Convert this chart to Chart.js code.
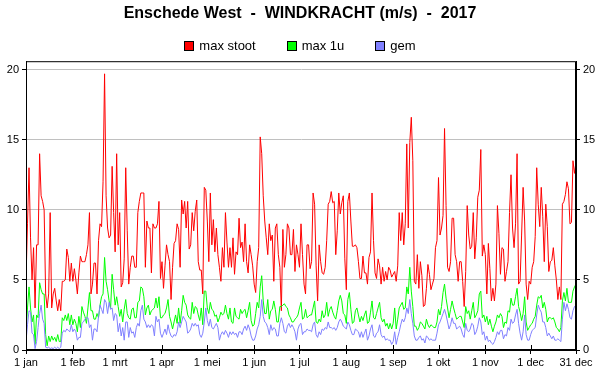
<!DOCTYPE html>
<html>
<head>
<meta charset="utf-8">
<script src="https://cdn.jsdelivr.net/npm/chart.js@4.4.1/dist/chart.umd.min.js"></script>
<style>
  html, body { margin: 0; padding: 0; background: #fff; }
  #wrap { position: relative; width: 600px; height: 390px; }
  #legend {
    position: absolute; top: 39px; left: 0; width: 600px;
    display: flex; justify-content: center; gap: 31px;
    font: 13px "Liberation Sans", Arial, sans-serif; color: #000; line-height: 14px;
  }
  .item { display: flex; align-items: center; }
  .box { width: 8px; height: 8px; border: 1px solid #000; margin-right: 5px; }
</style>
</head>
<body>
<div id="wrap">
  <canvas id="chart" width="600" height="390"></canvas>
  <div id="legend"></div>
</div>
<script>
// day index (0 = 1 jan) of each x tick
const monthDays = [0, 31, 59, 90, 120, 151, 181, 212, 243, 273, 304, 334, 364];
const monthLabels = ['1 jan', '1 feb', '1 mrt', '1 apr', '1 mei', '1 jun', '1 jul',
    '1 aug', '1 sep', '1 okt', '1 nov', '1 dec', '31 dec'];
const yTicks = [0, 5, 10, 15, 20];

const seriesNames = ['max stoot', 'max 1u', 'gem'];
const seriesColors = ['#ff0000', '#00ff00', '#8080ff'];

// daily values 2017, m/s
const maxStoot = [
    5, 9, 13, 8, 5, 7.3, 3, 7.5, 7.5, 14,
    11, 10.6, 10, 4, 3, 4, 9.8, 3, 4, 4.4,
    3.5, 2.8, 3.6, 2.8, 4.9, 4.9, 5, 7.2, 6.6, 4.9,
    6.2, 4.9, 5.8, 5, 4, 5.5, 6.7, 6.3, 6.3, 6.3,
    6.8, 7.5, 9.8, 4, 4.7, 6.2, 6.2, 4, 7.8, 9,
    8.8, 12, 19.7, 11, 8.7, 8, 8.2, 13.1, 9.8, 7,
    14, 7.5, 9.8, 4.5, 4.8, 6.5, 13, 8.5, 4.7, 5.9,
    6.7, 6.7, 5.9, 5.9, 9.8, 10.6, 11.2, 11.2, 11.2, 5.9,
    9.2, 8.7, 8.7, 5.5, 9, 8.7, 8.7, 9, 10.6, 5.1,
    6.3, 4.4, 6, 7.5, 6.8, 6.3, 3.6, 5.9, 7.6, 7.8,
    9, 8.6, 5.9, 10.7, 9.7, 10.6, 8.7, 10.6, 7.2, 7.5,
    9.8, 8.5, 9.9, 10.7, 6.3, 5.7, 5.7, 4, 11.6, 11.4,
    9.2, 6.3, 11.2, 7.5, 9.3, 7, 8.7, 6.8, 5.9, 4.9,
    7.3, 5.9, 9.8, 7.7, 5.9, 7.3, 5.9, 8, 5.4, 7,
    6.8, 9.4, 7.3, 7.7, 6.3, 9, 6.3, 5.5, 7.5, 6.8,
    6, 4.7, 4.1, 6.3, 7.3, 15.2, 14, 11, 9.2, 8,
    6.8, 9, 7.8, 8.2, 4.9, 8.7, 9, 6.8, 5.9, 2.8,
    8.6, 5.9, 6.8, 9, 8.7, 6.8, 6.8, 8.6, 5.6, 7.5,
    6.8, 5.9, 9, 6.8, 4.7, 4, 7.5, 7.5, 5.8, 6.3,
    11.2, 10.4, 6, 3.5, 7.5, 6.3, 5.5, 5.4, 5.9, 7.8,
    10.4, 10.6, 11.3, 10.5, 10.6, 6.8, 8.5, 11.2, 9.7, 10.5,
    11, 6.5, 4.3, 10.6, 11.2, 9.2, 7.4, 7.4, 7.5, 7.3,
    6.3, 5.1, 5.1, 6.7, 5.5, 5.5, 4.7, 6.6, 7, 11.2,
    7.8, 5.5, 5.1, 6.5, 6, 4.7, 5.9, 4.9, 5.6, 5,
    5.9, 5.7, 5.2, 5.4, 5.6, 4.9, 6, 9.8, 7.8, 9.8,
    7.5, 9, 14.7, 8.7, 14.8, 16.6, 13.5, 4.9, 4.7, 6.8,
    4.4, 6.3, 5.3, 3.1, 3.2, 4.4, 6.1, 5.4, 4.3, 4.7,
    5.1, 7.3, 7.8, 12.3, 8.2, 8.7, 9.6, 15.8, 10.3, 5.9,
    5.6, 6.3, 9.4, 9.4, 6.8, 6.3, 4.9, 6.3, 6.3, 4.9,
    3.1, 5.6, 10.3, 8.2, 7.2, 7.4, 9.8, 6.5, 8, 10.9,
    11.4, 14.3, 6.7, 7.5, 6.8, 4, 7.6, 5.8, 3.5, 4.4,
    3.5, 4.7, 10.3, 8.3, 5.4, 7.3, 7.2, 4.9, 5.6, 6.3,
    9.8, 12.5, 8.7, 7.3, 9, 14, 4.7, 4.9, 8.2, 11.6,
    9.2, 4.7, 3.6, 4.9, 4.7, 5.9, 6.3, 8.1, 13, 10.4,
    8.8, 11.6, 9.5, 6.3, 10.4, 8.8, 5.6, 6.3, 6.4, 7.3,
    6, 5, 3.6, 4.5, 3.6, 10.4, 10.6, 11.1, 12, 11.5,
    9, 9.1, 13.5, 12.6, 13.4
];

const max1u = [
    1.3, 3, 4.5, 3, 2, 2.5, 0.4, 2.5, 2.3, 4.8,
    4.3, 4, 4, 1.1, 0.3, 1, 0.6, 1, 0.7, 0.9,
    0.6, 1.1, 0.6, 0.6, 2.3, 2.1, 2.5, 2.1, 2.6, 1.8,
    2.5, 1.8, 2.2, 1.9, 1.3, 2.4, 1.6, 3.1, 2.7, 2.4,
    1.9, 3, 4.1, 2.8, 2.8, 2.2, 2.2, 2.6, 2.3, 3.2,
    3.8, 4, 6.6, 4.9, 4.3, 3.5, 3, 5.4, 4.3, 3.2,
    3.8, 3.1, 2.4, 2.9, 2, 2.9, 3.6, 2.6, 2.3, 2.2,
    2.9, 3, 2.3, 2.3, 3.4, 3.5, 4.5, 4.4, 3.8, 2.5,
    3, 3.2, 2.5, 2.8, 2.9, 3, 3.7, 3, 3.8, 2.3,
    2.3, 2.5, 2.6, 3, 3.6, 2.4, 2, 1.5, 2, 2.5,
    1.9, 3, 1.9, 2.8, 3.9, 3.4, 3.2, 2.5, 2.3, 2.2,
    3.4, 2.6, 3.1, 3, 2.5, 2.1, 3, 1.8, 4.2, 4.2,
    3, 2.6, 3.4, 2.9, 2.8, 2.4, 2.5, 2, 2.3, 2.7,
    2.5, 2.6, 3.2, 2.6, 2.2, 3, 2, 1.9, 3, 2.4,
    2.3, 2.2, 2.9, 2.6, 2.8, 2.9, 2.3, 2.8, 3.4, 2.1,
    1.7, 1.8, 2.6, 3.4, 3, 4.5, 5.3, 3.5, 2.6, 2.6,
    3.6, 2.2, 2.8, 2.9, 3.5, 2.9, 2, 2, 3.1, 3.1,
    3.2, 3.3, 3.1, 3, 2.5, 2.3, 2, 2, 2.2, 2.3,
    2.5, 3, 3.4, 2.2, 2.3, 2.9, 2.3, 2.4, 2.5, 2.5,
    3, 3.5, 2, 1.9, 2.2, 2, 2.8, 2.3, 2.5, 3.4,
    2.4, 2.9, 3.1, 2.7, 2.4, 2.2, 2.8, 3.5, 3.9, 3.5,
    2.6, 2.5, 1.9, 3.6, 4.1, 2.9, 1.9, 2, 2.8, 3,
    2.5, 2, 2.4, 2.1, 2.5, 2.8, 1.9, 2, 2.7, 3.5,
    2.3, 2.2, 2.6, 3, 3.4, 2.3, 2, 2.2, 1.7, 1.9,
    1.5, 1.9, 1.5, 1.9, 3, 1.5, 2.2, 3, 3.2, 3.4,
    2.9, 3, 4.5, 4, 5.9, 4.2, 3.1, 1.7, 1.7, 1.4,
    1.6, 2, 1.9, 1.7, 1.5, 2.2, 1.8, 1.6, 1.8, 1.7,
    1.6, 1.6, 2, 2.9, 2.5, 3.1, 4.1, 4.7, 3.7, 3,
    2.3, 2.9, 3.5, 3, 2.6, 2.2, 2.3, 2.4, 2.4, 2,
    1.6, 3.1, 2.6, 2.8, 2.2, 2.8, 3.4, 2.3, 2.5, 2.8,
    4, 4.2, 2.3, 2.5, 2, 2.4, 1.8, 2.2, 1.7, 1.3,
    1.7, 2, 2.5, 2.3, 2.6, 2.4, 1.6, 2, 1.9, 2.8,
    2.7, 3.7, 3.2, 3.2, 3.8, 4.4, 3.1, 2.7, 2.1, 2.6,
    3.8, 2, 1.4, 1.6, 1.8, 1.9, 2.2, 2.4, 3.2, 3.8,
    3.7, 3.9, 3, 3.4, 2.9, 2, 2.3, 2.3, 2.2, 2.3,
    2, 1.6, 1.5, 1.3, 1.6, 3.5, 4.1, 3.5, 4.4, 3.4,
    3.4, 3.4, 4.2, 4.5, 4.7
];

const gem = [
    0.6, 1.8, 2.8, 2.7, 1.2, 1.1, 0.1, 0.6, 1.6, 2.6,
    3.2, 2.2, 1.9, 0.2, 0.15, 0.2, 0.1, 0.15, 0.1, 0.2,
    0.1, 0.2, 0.1, 0.2, 1.2, 1.4, 1.3, 1.5, 1.4, 1.3,
    1.8, 1.3, 1.5, 1.3, 0.7, 0.9, 0.9, 1.9, 2, 2.2,
    2.3, 2.3, 1.6, 1.8, 0.7, 1.5, 1.5, 1.3, 2.4, 3.2,
    2.9, 2.6, 3.6, 3.4, 2.6, 3.4, 2.9, 3, 2.1, 2.6,
    2.5, 1.3, 1.9, 1, 1.6, 0.7, 2, 2, 0.9, 1.6,
    1.2, 1.3, 0.9, 1.6, 1.9, 1.7, 2.8, 3.2, 2.2, 2,
    1.6, 1.8, 1.6, 1.8, 1.7, 1, 2.4, 2, 2.2, 1.2,
    0.9, 1.2, 1.5, 1.1, 1.8, 1.3, 1, 0.9, 1.1, 1,
    1.3, 2, 1.6, 2, 2.4, 2.2, 2, 1.2, 1.3, 1.5,
    1.9, 1.7, 1.9, 1.7, 1.8, 1.1, 0.9, 1.2, 2, 3,
    2.1, 1.7, 2.2, 1.6, 1.5, 1.7, 1.9, 1.6, 0.7, 1.1,
    1.3, 1.1, 1.4, 1.2, 0.9, 1.3, 1.1, 1.3, 1.1, 1.2,
    0.9, 1.3, 1.3, 1.1, 1.5, 1.7, 1.4, 1.8, 1.5, 1,
    0.7, 0.7, 1, 1.5, 1.8, 2.4, 3.6, 2.4, 2, 1.9,
    1.6, 1.1, 1.8, 1.4, 1.6, 1.5, 1, 1, 1.9, 2.3,
    1.9, 1.3, 1.2, 1.7, 1.9, 1.6, 1.8, 1.6, 1.3, 0.7,
    1.5, 1.8, 1.9, 1.1, 1.3, 1.3, 1.5, 1.4, 1.4, 1.3,
    1.8, 2, 1.1, 0.9, 1.3, 1.1, 1.5, 1.4, 1.6, 1.5,
    2, 1.6, 1.6, 1.5, 1.6, 1.4, 1.6, 2, 2.2, 2,
    1.7, 1.6, 1.5, 2, 1.8, 1.4, 1.1, 1.1, 1.5, 1.4,
    1.3, 0.9, 1.3, 0.9, 1.2, 1.5, 0.7, 1, 1.5, 1.8,
    1, 0.9, 1.2, 1.3, 1.8, 1.1, 0.9, 1, 0.7, 0.8,
    0.7, 0.7, 0.4, 0.6, 1.3, 0.4, 0.9, 1.3, 1.8, 2.2,
    2, 2.3, 3, 2.6, 3.6, 2.6, 1.9, 1, 0.7, 0.7,
    0.9, 1, 0.7, 0.8, 0.5, 1, 0.9, 0.7, 0.8, 0.7,
    0.7, 0.7, 1.2, 1.8, 2, 2.3, 2.6, 2.9, 2.5, 2,
    1.5, 1.8, 2.3, 1.9, 1.9, 1.5, 1.6, 1.7, 1.5, 1.1,
    0.9, 1.9, 1.4, 1.3, 1.5, 1.9, 1.8, 1.1, 1.3, 1.7,
    2.3, 2, 1.1, 1.3, 0.7, 1, 0.6, 0.7, 0.5, 0.4,
    0.6, 0.9, 1.3, 1.1, 1.4, 1.4, 0.8, 1.1, 1, 1.6,
    1.4, 2.2, 1.9, 2, 2.5, 2.9, 1.9, 1.2, 0.7, 1.3,
    2.5, 1.1, 0.7, 0.7, 1.1, 1.4, 1.5, 1.6, 2.5, 3.2,
    2.9, 2.7, 2, 2, 1.6, 1, 1.2, 1, 0.8, 1,
    0.7, 0.7, 0.8, 0.7, 0.6, 2.2, 3.4, 2.8, 3.3, 2.9,
    2.3, 2.2, 2.8, 3.1, 3.2
];

const FONT = '"Liberation Sans", Arial, sans-serif';
Chart.defaults.font.family = FONT;
Chart.defaults.color = '#000';

// html legend
const legendEl = document.getElementById('legend');
seriesNames.forEach((name, i) => {
    const item = document.createElement('div');
    item.className = 'item';
    item.innerHTML = '<span class="box" style="background:' + seriesColors[i] + '"></span><span>' + name + '</span>';
    legendEl.appendChild(item);
});

// frame round the plot + month ticks pointing inwards
const framePlugin = {
    id: 'frame',
    afterDatasetsDraw(chart) {
        const { ctx, chartArea: a } = chart;
        const x = chart.scales.x;
        ctx.save();
        ctx.strokeStyle = '#000';
        ctx.lineWidth = 1;
        ctx.strokeRect(a.left + 0.5, a.top + 0.5, a.right - a.left - 1, a.bottom - a.top - 1);
        ctx.beginPath();
        monthDays.forEach(d => {
            const px = Math.round(x.getPixelForValue(d)) + 0.5;
            ctx.moveTo(px, a.bottom);
            ctx.lineTo(px, a.bottom - 5);
        });
        ctx.stroke();
        ctx.restore();
    }
};

const toPoints = arr => arr.map((v, i) => ({ x: i, y: v }));
const seriesData = [maxStoot, max1u, gem];

const yCommon = {
    min: 0,
    max: 20.6,
    afterBuildTicks: s => { s.ticks = yTicks.map(v => ({ value: v })); },
    ticks: { font: { size: 11 }, padding: 3, color: '#000' },
    border: { color: '#000' }
};

new Chart(document.getElementById('chart'), {
    type: 'line',
    data: {
        datasets: seriesNames.map((name, i) => ({
            label: name,
            data: toPoints(seriesData[i]),
            borderColor: seriesColors[i],
            backgroundColor: seriesColors[i],
            borderWidth: 1,
            pointRadius: 0,
            tension: 0,
            fill: false,
            order: 3 - i
        }))
    },
    options: {
        responsive: false,
        animation: false,
        layout: { padding: 0 },
        plugins: {
            legend: { display: false },
            tooltip: { enabled: false },
            title: {
                display: true,
                text: 'Enschede West  -  WINDKRACHT (m/s)  -  2017',
                color: '#000',
                font: { size: 16, weight: 'bold', family: FONT },
                padding: { top: 4, bottom: 38 }
            }
        },
        scales: {
            x: {
                type: 'linear',
                min: 0,
                max: 364,
                afterBuildTicks: s => { s.ticks = monthDays.map(v => ({ value: v })); },
                afterFit: s => { s.height = 40; },
                ticks: {
                    autoSkip: false,
                    maxRotation: 0,
                    font: { size: 11 },
                    padding: 2,
                    color: '#000',
                    callback: v => monthLabels[monthDays.indexOf(v)]
                },
                grid: { drawOnChartArea: false, tickLength: 4, tickColor: '#000' },
                border: { color: '#000' }
            },
            y: {
                ...yCommon,
                position: 'left',
                afterFit: s => { s.width = 26; },
                grid: { color: '#c0c0c0', tickColor: '#000', tickLength: 4 }
            },
            y2: {
                ...yCommon,
                position: 'right',
                afterFit: s => { s.width = 24; },
                grid: { drawOnChartArea: false, tickColor: '#000', tickLength: 4 }
            }
        }
    },
    plugins: [framePlugin]
});
</script>
</body>
</html>
